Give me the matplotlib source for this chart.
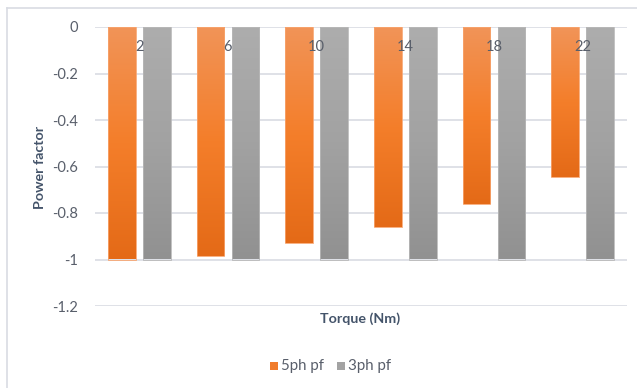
import numpy as np
import matplotlib
matplotlib.use("Agg")
import matplotlib.pyplot as plt
from matplotlib.colors import LinearSegmentedColormap
from matplotlib.lines import Line2D
from matplotlib.patches import Rectangle

plt.rcParams['font.family'] = ['Lato', 'DejaVu Sans']

torque = ["2", "6", "10", "14", "18", "22"]
pf_5ph = [-1.0, -0.985, -0.93, -0.86, -0.76, -0.645]
pf_3ph = [-1.0, -1.0, -1.0, -1.0, -1.0, -1.0]
yticks = [0, -0.2, -0.4, -0.6, -0.8, -1, -1.2]
series_names = ["5ph pf", "3ph pf"]

text_col = "#44546A"
tick_col = "#595F6B"
orange_grad = LinearSegmentedColormap.from_list("og", ["#F19458", "#F47E2A", "#E46A17"])
gray_grad = LinearSegmentedColormap.from_list("gg", ["#ADADAD", "#A2A2A2", "#919191"])

fig = plt.figure(figsize=(6.37, 3.88), dpi=100)
fig.patch.set_facecolor("white")

# chart frame (top and left edges)
fig.add_artist(Line2D([7/637, 7/637], [0, 1 - 8/388], transform=fig.transFigure,
                      color="#D9DCE3", lw=1.2))
fig.add_artist(Line2D([7/637, 1], [1 - 8/388, 1 - 8/388], transform=fig.transFigure,
                      color="#D9DCE3", lw=1.2))

ax = fig.add_axes([95/637, 1 - 306/388, (627 - 95)/637, (306 - 27)/388])
ax.set_xlim(-0.5, len(torque) - 0.5)
ax.set_ylim(-1.2, 0)
for s in ax.spines.values():
    s.set_visible(False)
ax.set_xticks([])
ax.set_yticks(yticks)
ax.set_yticklabels(["0", "-0.2", "-0.4", "-0.6", "-0.8", "-1", "-1.2"])
ax.tick_params(axis='y', length=0, pad=12, labelsize=10.5, labelcolor=tick_col)
for y in yticks:
    ax.axhline(y, color="#D9DCE3", lw=1.2, zorder=0)

x = np.arange(len(torque))
w = 0.31
off = 0.197
grad = np.linspace(0, 1, 256).reshape(-1, 1)


def gradient_bars(xpos, vals, cmap, edge):
    bars = ax.bar(xpos, vals, width=w, color="none", edgecolor=edge, linewidth=0.6, zorder=2)
    for b in bars:
        x0, y0 = b.get_x(), b.get_y()
        bw, bh = b.get_width(), b.get_height()
        im = ax.imshow(grad, cmap=cmap, aspect="auto", origin="upper",
                       extent=[x0, x0 + bw, y0 + bh, y0], zorder=1)
        clip = Rectangle((x0, y0), bw, bh, transform=ax.transData)
        im.set_clip_path(clip)
    return bars


gradient_bars(x - off, pf_5ph, orange_grad, "#F7A46E")
gradient_bars(x + off, pf_3ph, gray_grad, "#B8B8B8")
ax.set_xlim(-0.5, len(torque) - 0.5)
ax.set_ylim(-1.2, 0)

for i, lab in enumerate(torque):
    ax.text(i, -0.086, lab, ha="center", va="center", fontsize=10.5, color=tick_col, zorder=3)

fig.text(40/637, 1 - 167/388, "Power factor", rotation=90, ha="center", va="center",
         fontsize=10.3, fontweight="bold", color=text_col)
fig.text(360/637, 1 - 319/388, "Torque (Nm)", ha="center", va="center",
         fontsize=10.3, fontweight="bold", color=text_col)

# legend
ly = 1 - 366/388
fig.add_artist(Rectangle((270/637, ly - 4/388), 8/637, 8/388, transform=fig.transFigure,
                         facecolor="#F07B2B", edgecolor="none"))
fig.text(281/637, ly, series_names[0], ha="left", va="center", fontsize=10.8, color=tick_col)
fig.add_artist(Rectangle((337/637, ly - 4/388), 8/637, 8/388, transform=fig.transFigure,
                         facecolor="#A3A3A3", edgecolor="none"))
fig.text(348/637, ly, series_names[1], ha="left", va="center", fontsize=10.8, color=tick_col)

fig.savefig("out.png", dpi=100, facecolor="white")
